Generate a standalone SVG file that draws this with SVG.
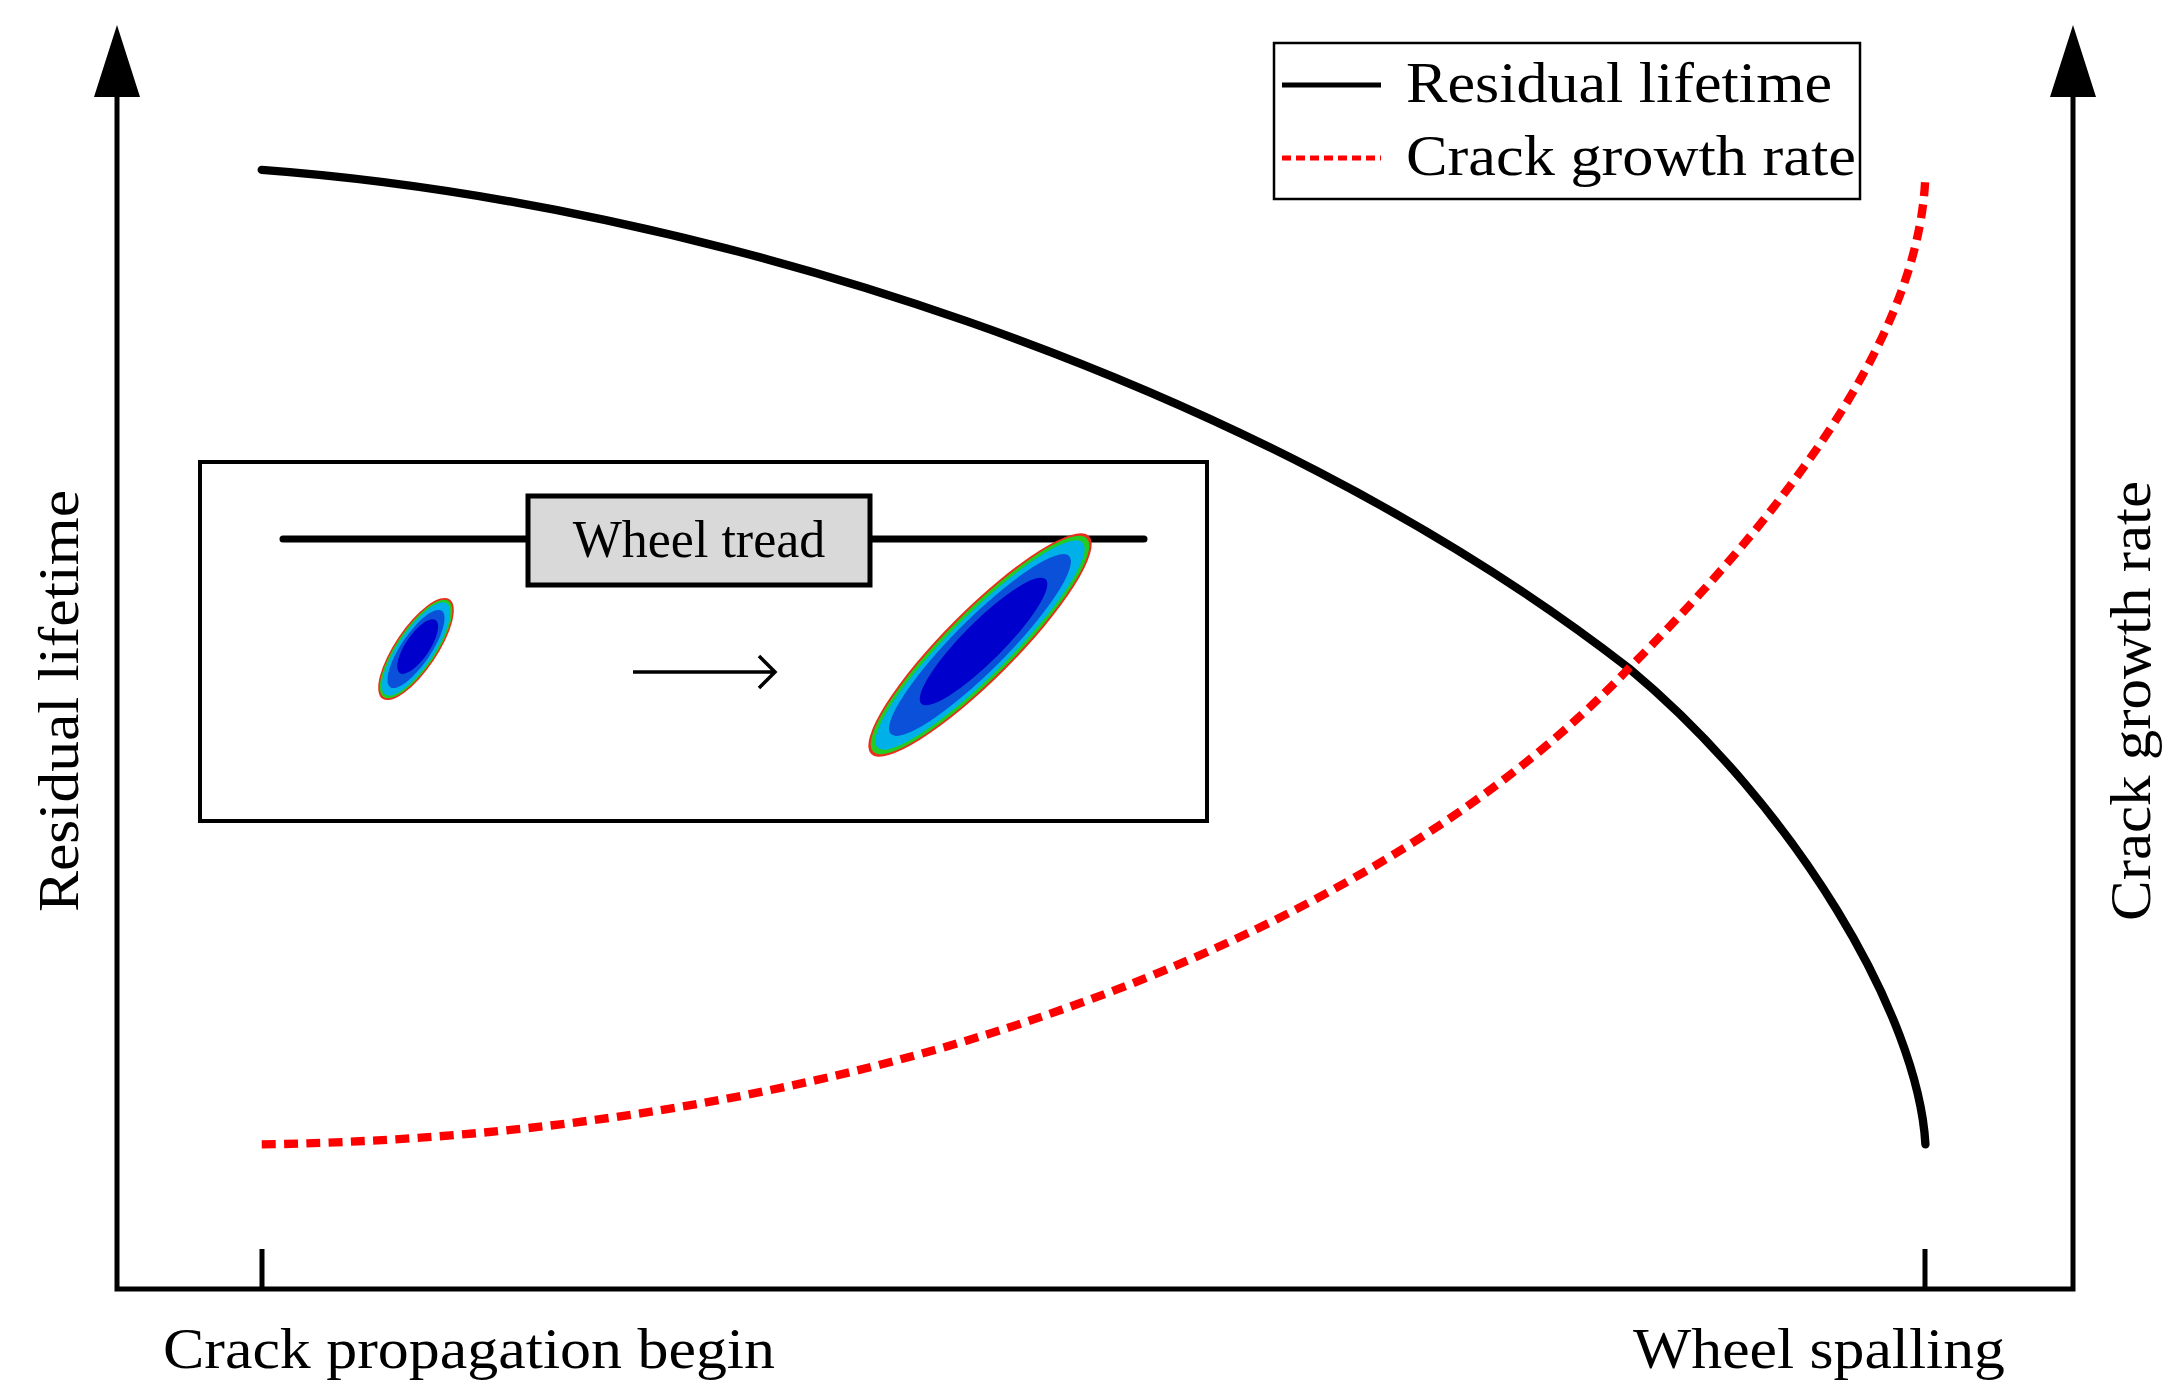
<svg xmlns="http://www.w3.org/2000/svg" width="2183" height="1398" viewBox="0 0 2183 1398">
<style>
text{font-family:"Liberation Serif","Times New Roman",serif;fill:#000}
.ax{stroke:#000;stroke-width:5;fill:none}
</style>
<rect width="2183" height="1398" fill="#fff"/>
<g id="axes">
<path class="ax" d="M117,90 V1289 H2073 V90"/>
<path d="M117,25 L94,97 H140 Z M2073,25 L2050,97 H2096 Z" fill="#000"/>
<path class="ax" d="M262,1249 V1289 M1925,1249 V1289"/>
</g>
<g id="labels">
<text x="469" y="1368" font-size="58" text-anchor="middle" textLength="612" lengthAdjust="spacingAndGlyphs">Crack propagation begin</text>
<text x="1819" y="1368" font-size="58" text-anchor="middle" textLength="372" lengthAdjust="spacingAndGlyphs">Wheel spalling</text>
<text transform="translate(78,701) rotate(-90)" font-size="58" text-anchor="middle" textLength="422" lengthAdjust="spacingAndGlyphs">Residual lifetime</text>
<text transform="translate(2150,701) rotate(-90)" font-size="58" text-anchor="middle" textLength="440" lengthAdjust="spacingAndGlyphs">Crack growth rate</text>
</g>
<g id="connectors" transform="scale(1.3922)">
<path fill="none" stroke="#000" stroke-width="6" stroke-linecap="round" d="M188,122 C500,145 900,270 1170,480 C1290,580 1378,730 1383,822"/>
<path fill="none" stroke="#f00" stroke-width="6" stroke-dasharray="10,6" d="M188,822 C650,815 1000,660 1170,480 C1300,350 1380,230 1383,125"/>
</g>
<g id="legend">
<rect x="1274" y="43" width="586" height="156" fill="#fff" stroke="#000" stroke-width="2.5"/>
<line x1="1282" y1="85" x2="1381" y2="85" stroke="#000" stroke-width="5"/>
<line x1="1282" y1="158" x2="1381" y2="158" stroke="#f00" stroke-width="5" stroke-dasharray="9,5"/>
<text x="1406" y="102" font-size="56" textLength="426" lengthAdjust="spacingAndGlyphs">Residual lifetime</text>
<text x="1406" y="175" font-size="56" textLength="450" lengthAdjust="spacingAndGlyphs">Crack growth rate</text>
</g>
<g id="inset">
<rect x="200" y="462" width="1007" height="359" fill="#fff" stroke="#000" stroke-width="4"/>
<line x1="283" y1="539" x2="1144" y2="539" stroke="#000" stroke-width="7" stroke-linecap="round"/>
<rect x="528" y="496" width="342" height="89" fill="#d9d9d9" stroke="#000" stroke-width="5"/>
<text x="699" y="557" font-size="52" text-anchor="middle">Wheel tread</text>
<g transform="translate(416,649) rotate(-56)">
<ellipse rx="60" ry="21" fill="#e8301a"/>
<ellipse rx="58" ry="19.5" fill="#22cc22"/>
<ellipse rx="55" ry="18" fill="#00b0e8"/>
<ellipse rx="46" ry="15" fill="#0a50d8"/>
<ellipse rx="32" ry="12" cx="3" fill="#0000cc"/>
</g>
<g transform="translate(980,645) rotate(-45)">
<ellipse rx="154" ry="35" fill="#e8301a"/>
<ellipse rx="151" ry="33" fill="#22cc22"/>
<ellipse rx="145" ry="30" fill="#00b0e8"/>
<ellipse rx="126" ry="26" fill="#0a50d8"/>
<ellipse rx="88" ry="20" cx="5" fill="#0000cc"/>
</g>
<path d="M633,672 H773 M759,656 L775,672 L759,688" fill="none" stroke="#000" stroke-width="3.5"/>
</g>
</svg>
